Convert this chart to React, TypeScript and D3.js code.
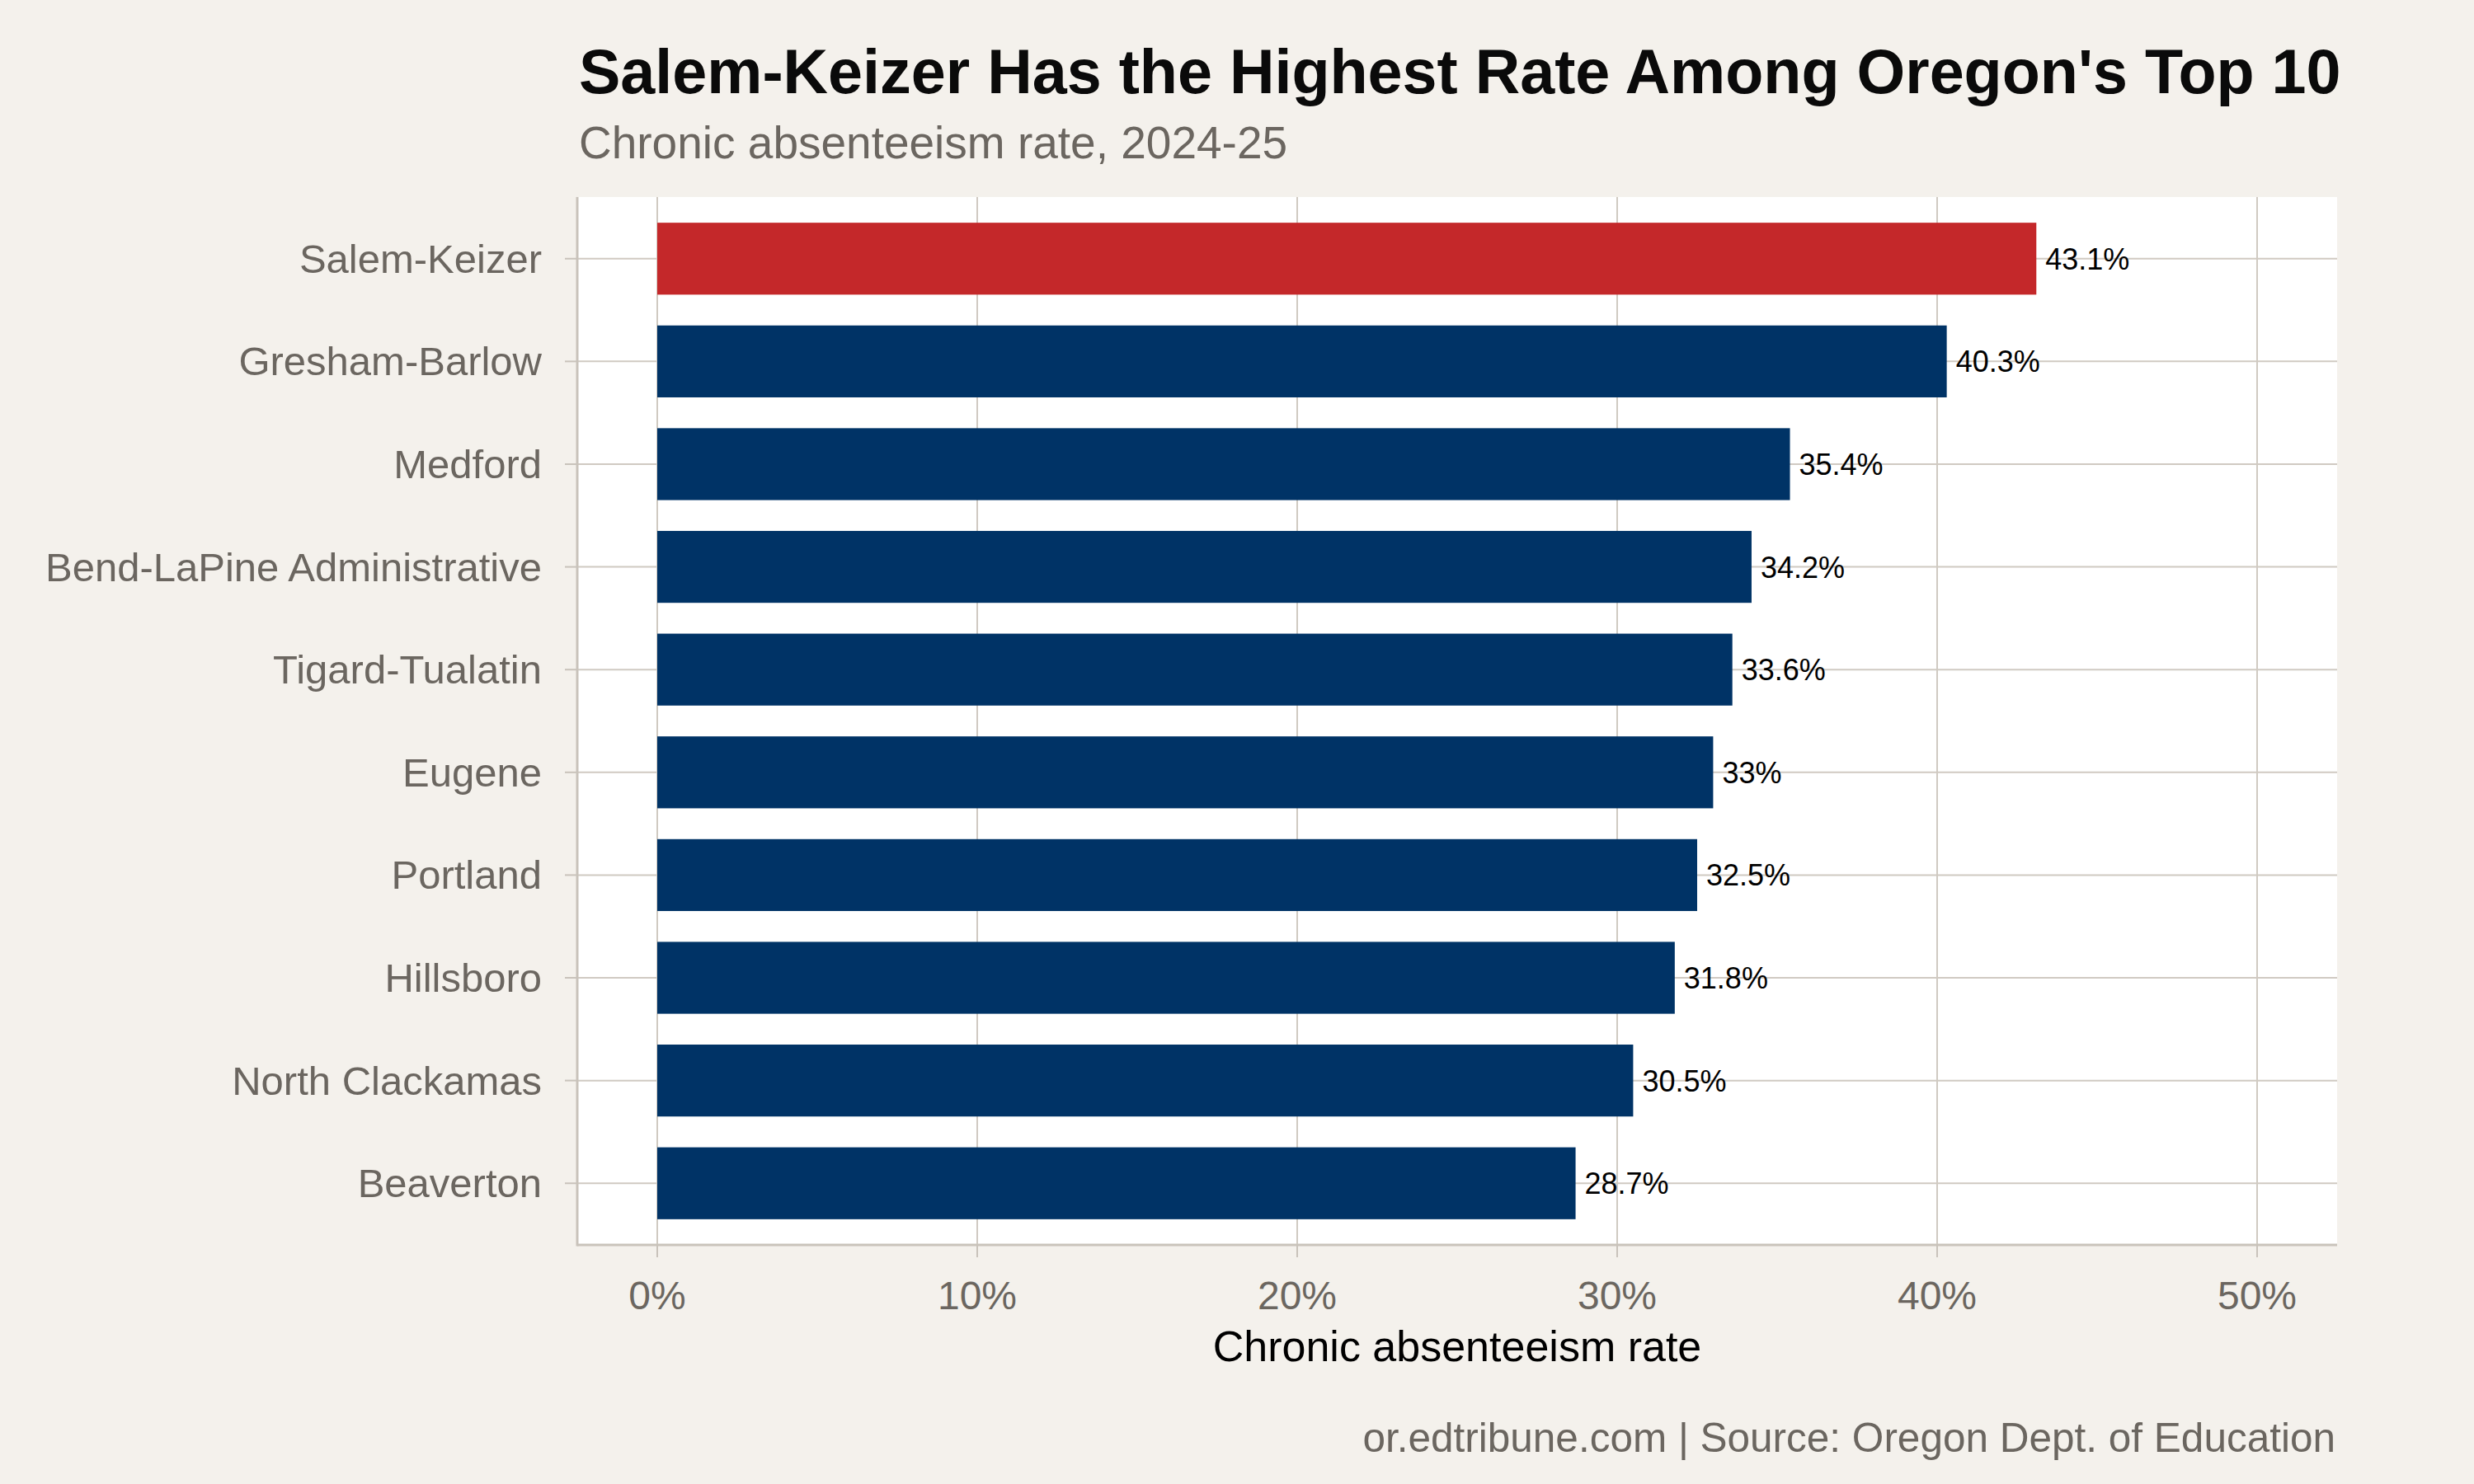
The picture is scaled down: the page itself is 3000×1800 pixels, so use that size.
import * as d3 from "d3";

// districts, top to bottom
const districts = [
  "Salem-Keizer",
  "Gresham-Barlow",
  "Medford",
  "Bend-LaPine Administrative",
  "Tigard-Tualatin",
  "Eugene",
  "Portland",
  "Hillsboro",
  "North Clackamas",
  "Beaverton",
];
const rates = [43.1, 40.3, 35.4, 34.2, 33.6, 33, 32.5, 31.8, 30.5, 28.7];
const highlight = "Salem-Keizer";
const xTicks = [0, 10, 20, 30, 40, 50];

const title = "Salem-Keizer Has the Highest Rate Among Oregon's Top 10";
const subtitle = "Chronic absenteeism rate, 2024-25";
const xTitle = "Chronic absenteeism rate";
const caption = "or.edtribune.com | Source: Oregon Dept. of Education";

const W = 3000;
const H = 1800;
const panel = { left: 700, right: 2834, top: 239, bottom: 1510 };

const BG = "#f4f1ec";
const GRID = "#d0cac2";
const AXIS = "#c9c3bb";
const GRAY = "#6b6660";
const NAVY = "#003366";
const RED = "#c4282a";
const FONT = "'Liberation Sans', Arial, Helvetica, sans-serif";

export default function App() {
  const x = d3
    .scaleLinear()
    .domain([-2.5, 52.5])
    .range([panel.left, panel.right]);

  const y = d3
    .scaleBand<string>()
    .domain(districts)
    .range([panel.top, panel.bottom])
    .paddingInner(0.3)
    .paddingOuter(0.25);

  const mid = (d: string) => (y(d) ?? 0) + y.bandwidth() / 2;
  const data = districts.map((d, i) => ({ name: d, value: rates[i] }));

  return (
    <svg
      width={W}
      height={H}
      style={{ position: "absolute", left: 0, top: 0, fontFamily: FONT }}
    >
      <rect width={W} height={H} fill={BG} />

      {/* titles */}
      <text x={702} y={113} fontSize={75.5} fontWeight="bold" fill="#0a0a0a">
        {title}
      </text>
      <text x={702} y={192} fontSize={55} fill={GRAY}>
        {subtitle}
      </text>

      {/* panel */}
      <rect
        x={panel.left}
        y={panel.top}
        width={panel.right - panel.left}
        height={panel.bottom - panel.top}
        fill="#fff"
      />

      {/* grid */}
      {xTicks.map((t) => (
        <line
          key={t}
          x1={x(t)}
          x2={x(t)}
          y1={panel.top}
          y2={panel.bottom}
          stroke={GRID}
          strokeWidth={2}
        />
      ))}
      {districts.map((d) => (
        <line
          key={d}
          x1={panel.left}
          x2={panel.right}
          y1={mid(d)}
          y2={mid(d)}
          stroke={GRID}
          strokeWidth={2}
        />
      ))}

      {/* bars */}
      {data.map((d) => (
        <rect
          key={d.name}
          x={x(0)}
          y={y(d.name)}
          width={x(d.value) - x(0)}
          height={y.bandwidth()}
          fill={d.name === highlight ? RED : NAVY}
        />
      ))}

      {/* value labels */}
      {data.map((d) => (
        <text
          key={d.name}
          x={x(d.value) + 11}
          y={mid(d.name) + 13}
          fontSize={36}
          fill="#000"
        >
          {`${d.value}%`}
        </text>
      ))}

      {/* axis lines */}
      <line
        x1={panel.left}
        x2={panel.left}
        y1={panel.top}
        y2={panel.bottom + 1.5}
        stroke={AXIS}
        strokeWidth={3}
      />
      <line
        x1={panel.left}
        x2={panel.right}
        y1={panel.bottom}
        y2={panel.bottom}
        stroke={AXIS}
        strokeWidth={3}
      />

      {/* y axis */}
      {districts.map((d) => (
        <g key={d}>
          <line
            x1={panel.left - 15}
            x2={panel.left}
            y1={mid(d)}
            y2={mid(d)}
            stroke={AXIS}
            strokeWidth={2}
          />
          <text
            x={657}
            y={mid(d) + 17}
            textAnchor="end"
            fontSize={49}
            fill={GRAY}
          >
            {d}
          </text>
        </g>
      ))}

      {/* x axis */}
      {xTicks.map((t) => (
        <g key={t}>
          <line
            x1={x(t)}
            x2={x(t)}
            y1={panel.bottom}
            y2={panel.bottom + 15}
            stroke={AXIS}
            strokeWidth={2}
          />
          <text
            x={x(t)}
            y={1588}
            textAnchor="middle"
            fontSize={48}
            fill={GRAY}
          >
            {`${t}%`}
          </text>
        </g>
      ))}
      <text
        x={(panel.left + panel.right) / 2}
        y={1651}
        textAnchor="middle"
        fontSize={52}
        fill="#000"
      >
        {xTitle}
      </text>

      <text x={2832} y={1761} textAnchor="end" fontSize={49.5} fill={GRAY}>
        {caption}
      </text>
    </svg>
  );
}
